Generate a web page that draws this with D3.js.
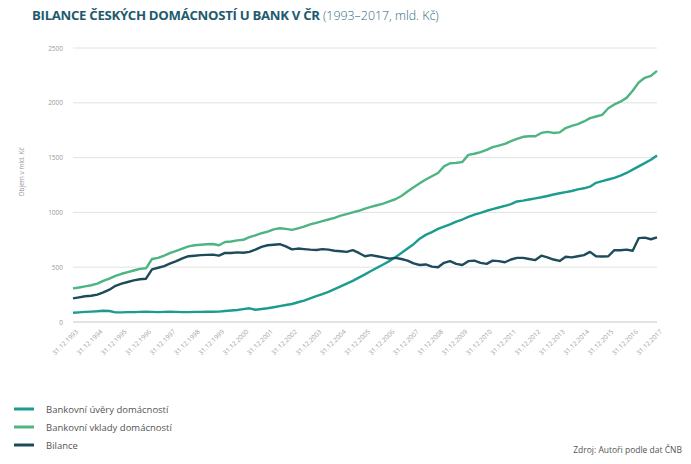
<!DOCTYPE html>
<html><head><meta charset="utf-8">
<script src="https://cdn.jsdelivr.net/npm/d3@7"></script>
<style>
body{margin:0;background:#fff;}
svg{display:block;font-family:"Open Sans",sans-serif;}
</style></head>
<body><svg id="c" width="691" height="464"></svg>
<script>
// Quarter-end dates from 31.12.1993 to 31.12.2017
const startYear = 1993;
const quarterCount = 97;
const tickYears = d3.range(1993, 2018);
const yTicks = [0, 500, 1000, 1500, 2000, 2500];

const loans = [85,88,92,95,98,103,100,88,88,90,90,92,95,92,90,92,93,92,90,90,92,92,93,94,95,100,105,110,118,125,112,118,125,135,145,155,164,180,195,215,235,255,275,300,325,350,375,405,435,465,495,525,555,590,630,670,710,760,795,820,850,870,890,915,935,960,980,995,1015,1030,1045,1060,1075,1100,1108,1118,1128,1138,1150,1163,1175,1185,1195,1210,1220,1235,1270,1285,1300,1315,1335,1360,1390,1420,1450,1480,1520];
const deposits = [307,315,325,335,350,375,395,420,440,455,470,485,490,575,585,605,630,650,670,690,700,705,710,712,700,730,735,745,750,775,790,810,825,845,855,850,840,855,870,890,905,920,935,950,970,985,1000,1015,1035,1050,1065,1080,1100,1120,1150,1190,1230,1265,1300,1330,1360,1420,1448,1452,1460,1525,1535,1550,1570,1595,1610,1625,1650,1670,1690,1695,1695,1725,1735,1725,1730,1770,1790,1805,1830,1860,1875,1890,1950,1985,2010,2045,2110,2185,2228,2245,2292];
const balance = [216,225,235,240,250,270,295,330,350,365,380,390,395,480,495,510,535,555,580,600,605,610,612,615,605,630,630,635,632,640,660,685,700,705,710,690,663,670,665,660,657,665,660,650,645,640,655,630,600,610,600,590,578,585,575,560,535,520,525,505,500,540,555,530,520,555,560,540,530,560,555,545,570,585,585,575,565,605,590,570,557,595,590,600,610,640,600,598,600,655,655,660,650,765,770,755,773];

const seriesNames = ["Bankovní úvěry domácností","Bankovní vklady domácností","Bilance"];
const seriesColors = ["#1c9c8f","#4db482","#1d4b5c"];

const dates = d3.range(quarterCount).map(i => new Date(startYear + Math.floor((i+3)/4), ((i+3)%4)*3 + 3, 0));
const series = [loans, deposits, balance];

const svg = d3.select("#c");
const x = d3.scaleTime().domain([new Date(1993,11,31), new Date(2017,11,31)]).range([73, 657]);
const y = d3.scaleLinear().domain([0, 2500]).range([322, 48]);

// title
const t = svg.append("text").attr("x", 32).attr("y", 20).attr("font-size", 13.2).attr("fill", "#1e5a6e");
t.append("tspan").attr("font-weight", 700).attr("letter-spacing", -0.3).text("BILANCE ČESKÝCH DOMÁCNOSTÍ U BANK V ČR");
t.append("tspan").attr("font-weight", 300).attr("fill","#2f6b7d").attr("font-size", 12.4).text(" (1993–2017, mld. Kč)");

// gridlines
svg.append("g").selectAll("line").data(yTicks).join("line")
  .attr("x1", 73).attr("x2", 657)
  .attr("y1", d => y(d)).attr("y2", d => y(d))
  .attr("stroke", d => d === 0 ? "#d8d8d8" : "#e2e2e2").attr("stroke-width", d => d===0?1.5:1);

// y axis labels
const yAxis = d3.axisLeft(y).tickValues(yTicks).tickSize(0).tickPadding(5).tickFormat(d3.format("d"));
const gy = svg.append("g").attr("transform", "translate(68,0)").call(yAxis);
gy.select(".domain").remove();
gy.selectAll("text").attr("font-size", 6.5).attr("fill", "#9a9a9a").attr("font-family","Open Sans");

svg.append("text").attr("transform", "translate(24,172) rotate(-90)").attr("text-anchor","middle")
  .attr("font-size", 6.5).attr("fill", "#9a9a9a").text("Objem v mld. Kč");

// x axis
const xAxis = d3.axisBottom(x).tickValues(tickYears.map(yy => new Date(yy,11,31))).tickSize(0).tickFormat(d3.timeFormat("31.12.%Y"));
const gx = svg.append("g").attr("transform", "translate(0,326)").call(xAxis);
gx.select(".domain").remove();
gx.selectAll("text").attr("font-size", 6.5).attr("fill", "#a0a0a0").attr("font-family","Open Sans")
  .attr("text-anchor", "end").attr("dy", 0).attr("dx", 0)
  .attr("transform", "translate(3,4) rotate(-45)");

// lines
const line = d3.line().x((d,i) => x(dates[i])).y(d => y(d)).curve(d3.curveLinear);
svg.append("g").selectAll("path").data(series).join("path")
  .attr("d", d => line(d)).attr("fill", "none")
  .attr("stroke", (d,i) => seriesColors[i]).attr("stroke-width", 2.4)
  .attr("stroke-linejoin","round");

// legend
const lg = svg.append("g").selectAll("g").data(seriesNames).join("g")
  .attr("transform", (d,i) => `translate(14,${409 + i*18})`);
lg.append("line").attr("x1",0).attr("x2",20).attr("y1",0).attr("y2",0)
  .attr("stroke",(d,i)=>seriesColors[i]).attr("stroke-width",3);
lg.append("text").attr("x",32).attr("y",3.5).attr("font-size",9.5).attr("fill","#555")
  .text(d=>d);

svg.append("text").attr("x", 682).attr("y", 453).attr("text-anchor","end")
  .attr("font-size", 8.5).attr("fill","#555").text("Zdroj: Autoři podle dat ČNB");
</script></body></html>
